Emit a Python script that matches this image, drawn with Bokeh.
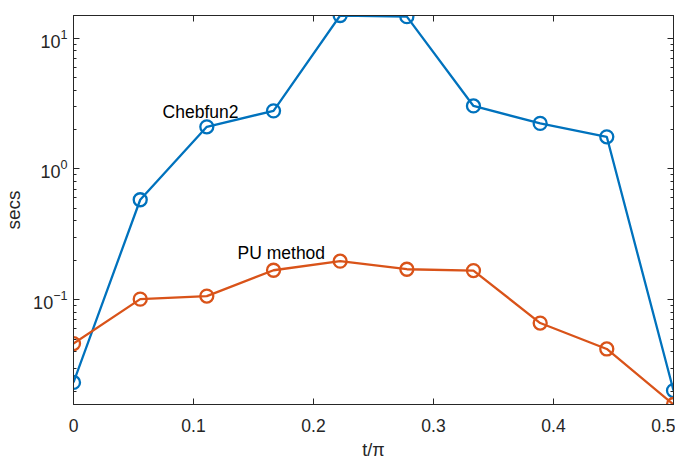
from bokeh.plotting import figure
from bokeh.models import Range1d, LogAxis, LinearAxis, LogTicker, FixedTicker
from bokeh.core.properties import value
from bokeh.embed import file_html
from bokeh.resources import INLINE

t_over_pi = [0.0, 0.0556, 0.1111, 0.1667, 0.2222, 0.2778, 0.3333, 0.3889, 0.4444, 0.5]
chebfun2_secs = [0.0233, 0.581, 2.10, 2.78, 14.9, 14.6, 3.03, 2.23, 1.76, 0.0202]
pu_secs = [0.0462, 0.101, 0.1066, 0.168, 0.197, 0.171, 0.167, 0.0663, 0.0420, 0.0158]
x_ticks = [0, 0.1, 0.2, 0.3, 0.4, 0.5]

BLUE = "#0072BD"
ORANGE = "#D95319"
AX = "#262626"
FONT = "Liberation Sans"

p = figure(frame_width=600, frame_height=389, y_axis_type="log",
           x_range=Range1d(0, 0.5), y_range=Range1d(min(pu_secs), max(chebfun2_secs)),
           output_backend="svg", toolbar_location=None,
           min_border_left=66, min_border_right=2, min_border_top=15, min_border_bottom=38)
p.grid.visible = False
p.outline_line_color = AX
p.background_fill_color = "white"
p.border_fill_color = "white"

def style_axis(ax, labels=True, minor=True):
    ax.axis_line_color = AX
    ax.major_tick_line_color = AX
    ax.major_tick_in = 6
    ax.major_tick_out = 0
    if minor:
        ax.minor_tick_line_color = AX
        ax.minor_tick_in = 3
        ax.minor_tick_out = 0
    else:
        ax.minor_tick_line_color = None
    ax.major_label_text_font = FONT
    ax.major_label_text_color = AX
    if labels:
        ax.major_label_text_font_size = "18px"
        ax.major_label_standoff = 6
    else:
        ax.major_label_text_font_size = "1px"
        ax.major_label_text_alpha = 0
        ax.major_label_standoff = 0

ylog_ticker = LogTicker(num_minor_ticks=10)
xticker = FixedTicker(ticks=x_ticks)

xa = p.xaxis[0]
xa.ticker = xticker
style_axis(xa, minor=False)
xa.major_label_text_font_size = "17.5px"
xa.major_label_standoff = 14
xa.axis_label = "t/π"
xa.axis_label_text_font = FONT
xa.axis_label_text_font_style = "normal"
xa.axis_label_text_font_size = "18px"
xa.axis_label_text_color = AX
xa.axis_label_standoff = 5

ya = p.yaxis[0]
ya.ticker = ylog_ticker
style_axis(ya)
ya.axis_label = "secs"
ya.axis_label_text_font = FONT
ya.axis_label_text_font_style = "normal"
ya.axis_label_text_font_size = "19px"
ya.axis_label_text_color = AX
ya.axis_label_standoff = 6

top = LinearAxis(ticker=xticker)
style_axis(top, labels=False, minor=False)
p.add_layout(top, "above")
right = LogAxis(ticker=ylog_ticker)
style_axis(right, labels=False)
p.add_layout(right, "right")

p.line(t_over_pi, chebfun2_secs, line_color=BLUE, line_width=2.3)
p.scatter(t_over_pi, chebfun2_secs, marker="circle", size=13, fill_color=None,
          line_color=BLUE, line_width=2.3)
p.line(t_over_pi, pu_secs, line_color=ORANGE, line_width=2.3)
p.scatter(t_over_pi, pu_secs, marker="circle", size=13, fill_color=None,
          line_color=ORANGE, line_width=2.3)

p.text(x=[0.0742], y=[2.74], text=["Chebfun2"], text_font=value(FONT),
       text_font_size="17.5px", text_color="black", text_baseline="alphabetic")
p.text(x=[0.1367], y=[0.229], text=["PU method"], text_font=value(FONT),
       text_font_size="17.5px", text_color="black", text_baseline="alphabetic")

open("out.html", "w").write(file_html(p, INLINE))
